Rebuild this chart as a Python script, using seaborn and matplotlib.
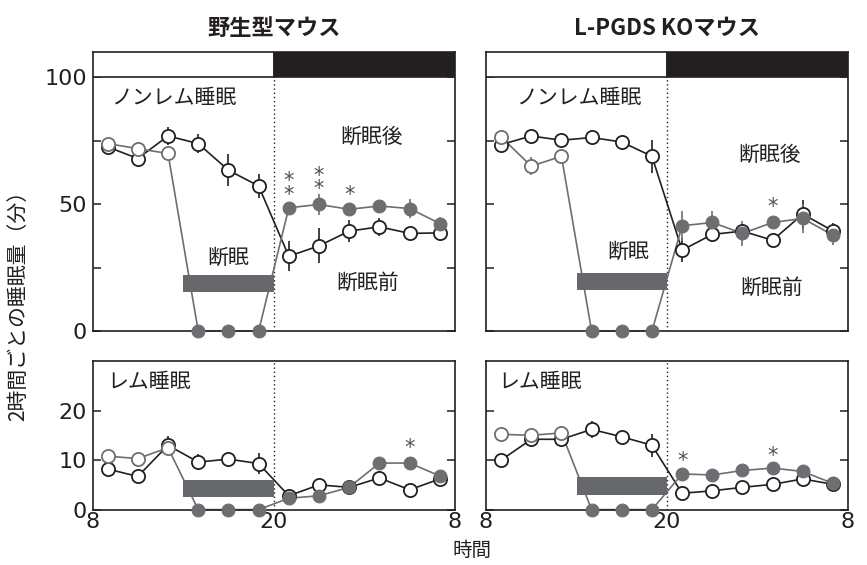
import numpy as np
import pandas as pd
import matplotlib.pyplot as plt
import seaborn as sns
from matplotlib.patches import Rectangle

# ========= Data =========
hours = [9, 11, 13, 15, 17, 19, 21, 23, 25, 27, 29, 31]

# NREM sleep, wild type
wt_nrem_base = [72.6, 68.0, 76.9, 73.9, 63.4, 57.2, 29.5, 33.6, 39.4, 41.1, 38.5, 38.7]
wt_nrem_base_err = [1.0, 1.0, 3.5, 3.7, 6.2, 4.6, 5.9, 6.9, 4.4, 3.6, 2.6, 3.3]
wt_nrem_sd = [73.9, 71.9, 70.0, 0, 0, 0, 48.6, 49.9, 48.0, 49.3, 48.3, 42.4]
wt_nrem_sd_err = [1.0, 1.0, 1.0, 0, 0, 0, 1.6, 4.1, 2.0, 2.3, 3.6, 2.6]

# NREM sleep, L-PGDS KO
ko_nrem_base = [73.5, 76.9, 75.2, 76.3, 74.5, 68.9, 31.9, 38.1, 39.4, 35.8, 46.1, 39.5]
ko_nrem_base_err = [1.5, 1.5, 2.0, 1.0, 2.0, 6.6, 4.6, 3.0, 2.5, 2.5, 5.7, 3.0]
ko_nrem_sd = [76.5, 65.0, 68.9, 0, 0, 0, 41.5, 42.8, 38.5, 42.8, 44.4, 37.8]
ko_nrem_sd_err = [1.0, 3.6, 1.5, 0, 0, 0, 5.9, 4.6, 4.9, 2.0, 5.6, 4.0]

# REM sleep, wild type
wt_rem_base = [8.2, 6.7, 13.0, 9.6, 10.2, 9.3, 2.8, 5.0, 4.5, 6.4, 4.0, 6.2]
wt_rem_base_err = [1.0, 0.8, 1.9, 1.7, 1.5, 2.2, 0.8, 0.8, 0.8, 1.0, 0.8, 1.2]
wt_rem_sd = [10.8, 10.3, 12.5, 0, 0, 0, 2.3, 2.8, 4.5, 9.4, 9.4, 6.8]
wt_rem_sd_err = [1.0, 0.8, 0.8, 0, 0, 0, 0.5, 0.8, 0.8, 1.0, 1.3, 1.0]

# REM sleep, L-PGDS KO
ko_rem_base = [10.0, 14.2, 14.2, 16.2, 14.7, 13.0, 3.3, 3.8, 4.5, 5.1, 6.2, 5.1]
ko_rem_base_err = [1.0, 1.5, 1.0, 1.7, 0.8, 2.3, 0.5, 0.5, 0.5, 0.5, 0.7, 0.5]
ko_rem_sd = [15.2, 15.0, 15.5, 0, 0, 0, 7.2, 7.0, 7.9, 8.4, 7.7, 5.3]
ko_rem_sd_err = [1.0, 1.0, 0.8, 0, 0, 0, 0.5, 1.2, 0.5, 1.0, 0.5, 0.5]

# significance marks: (hour, y, text)
wt_nrem_stars = [(21, 56.5, "*\n*"), (23, 58.6, "*\n*"), (25, 53.5, "*")]
ko_nrem_stars = [(27, 48.8, "*")]
wt_rem_stars = [(29, 12.5, "*")]
ko_rem_stars = [(21, 9.8, "*"), (27, 10.8, "*")]

titles = ["野生型マウス", "L-PGDS KOマウス"]
x_ticks = [8, 20, 32]
x_ticklabels = ["8", "20", "8"]

# ========= Style =========
sns.set_style("ticks")
plt.rcParams["font.family"] = ["Noto Sans CJK JP", "DejaVu Sans"]

BLACK = "#231f20"
GRAY = "#6d6e71"
BAR = "#67686b"
STAR = "#505052"

fig = plt.figure(figsize=(8.67, 5.65), dpi=100)
ax_tl = fig.add_axes([0.1067, 0.414, 0.418, 0.494])
ax_tr = fig.add_axes([0.5606, 0.414, 0.4175, 0.494])
ax_bl = fig.add_axes([0.1067, 0.098, 0.418, 0.263])
ax_br = fig.add_axes([0.5606, 0.098, 0.4175, 0.263])


def draw_series(ax, base, base_err, sd, sd_err):
    df = pd.DataFrame({"hour": hours, "base": base, "base_err": base_err,
                       "sd": sd, "sd_err": sd_err})
    # error bars
    ax.vlines(df["hour"], df["base"] - df["base_err"], df["base"] + df["base_err"],
              color=BLACK, lw=1.2, zorder=2)
    ax.vlines(df["hour"], df["sd"] - df["sd_err"], df["sd"] + df["sd_err"],
              color=GRAY, lw=1.2, zorder=2)
    # lines
    sns.lineplot(data=df, x="hour", y="base", ax=ax, color=BLACK, lw=1.2, zorder=2)
    sns.lineplot(data=df, x="hour", y="sd", ax=ax, color=GRAY, lw=1.2, zorder=2)
    # markers
    sns.scatterplot(data=df, x="hour", y="base", ax=ax, s=90, facecolor="white",
                    edgecolor=BLACK, linewidth=1.3, zorder=5)
    sns.scatterplot(data=df.iloc[:3], x="hour", y="sd", ax=ax, s=90, facecolor="white",
                    edgecolor=GRAY, linewidth=1.3, zorder=6)
    sns.scatterplot(data=df.iloc[3:], x="hour", y="sd", ax=ax, s=85, facecolor=GRAY,
                    edgecolor=GRAY, linewidth=0.8, zorder=6)
    for coll in ax.collections:
        coll.set_clip_on(False)
    for ln in ax.lines:
        ln.set_clip_on(False)


def add_stars(ax, stars):
    for x, y, s in stars:
        ax.text(x, y, s, ha="center", va="center", fontsize=15, color=STAR,
                family="DejaVu Sans", linespacing=0.6)


def style_axes(ax, ymax, yticks, ylabels, show_ylabels):
    ax.set_xlim(8, 32)
    ax.set_ylim(0, ymax)
    ax.set_yticks(yticks)
    ax.set_yticklabels(ylabels if show_ylabels else [""] * len(yticks),
                       family="DejaVu Sans")
    ax.tick_params(axis="y", direction="in", left=True, right=True, length=6,
                   width=1.1, color=BLACK, labelsize=16, pad=4, labelcolor=BLACK)
    ax.set_xlabel("")
    ax.set_ylabel("")
    for sp in ax.spines.values():
        sp.set_visible(True)
        sp.set_color(BLACK)
        sp.set_linewidth(1.2)


# ========= Top panels (NREM) =========
for ax, base, base_err, sd, sd_err, stars, txt in [
    (ax_tl, wt_nrem_base, wt_nrem_base_err, wt_nrem_sd, wt_nrem_sd_err, wt_nrem_stars,
     [(9.2, 92, "ノンレム睡眠", "left"), (26.5, 76.4, "断眠後", "center"),
      (17.0, 28.7, "断眠", "center"), (26.2, 18.9, "断眠前", "center")]),
    (ax_tr, ko_nrem_base, ko_nrem_base_err, ko_nrem_sd, ko_nrem_sd_err, ko_nrem_stars,
     [(10.0, 92, "ノンレム睡眠", "left"), (26.8, 69.3, "断眠後", "center"),
      (17.4, 31.1, "断眠", "center"), (26.9, 16.9, "断眠前", "center")]),
]:
    draw_series(ax, base, base_err, sd, sd_err)
    style_axes(ax, 110, [0, 25, 50, 75, 100], ["0", "", "50", "", "100"], ax is ax_tl)
    ax.set_xticks([])
    # light / dark bar
    ax.add_patch(Rectangle((8, 100), 12, 10, facecolor="white", edgecolor=BLACK,
                           lw=1.2, zorder=3))
    ax.add_patch(Rectangle((20, 100), 12, 10, facecolor=BLACK, edgecolor=BLACK,
                           lw=1.2, zorder=3))
    ax.plot([20, 20], [0, 100], ls=(0, (1, 2)), color=BLACK, lw=1.0, zorder=1)
    for x, y, s, ha in txt:
        ax.text(x, y, s, ha=ha, va="center", fontsize=15, color=BLACK)
    add_stars(ax, stars)

ax_tl.add_patch(Rectangle((14, 15.4), 6, 6.6, facecolor=BAR, edgecolor="none", zorder=4))
ax_tr.add_patch(Rectangle((14, 16.1), 6, 6.7, facecolor=BAR, edgecolor="none", zorder=4))

# ========= Bottom panels (REM) =========
for ax, base, base_err, sd, sd_err, stars, lx in [
    (ax_bl, wt_rem_base, wt_rem_base_err, wt_rem_sd, wt_rem_sd_err, wt_rem_stars, 9.0),
    (ax_br, ko_rem_base, ko_rem_base_err, ko_rem_sd, ko_rem_sd_err, ko_rem_stars, 8.8),
]:
    draw_series(ax, base, base_err, sd, sd_err)
    style_axes(ax, 30, [0, 10, 20], ["0", "10", "20"], ax is ax_bl)
    ax.set_xticks(x_ticks)
    ax.set_xticklabels(x_ticklabels, family="DejaVu Sans")
    ax.tick_params(axis="x", length=0, labelsize=16, pad=2, labelcolor=BLACK)
    ax.plot([20, 20], [0, 30], ls=(0, (1, 2)), color=BLACK, lw=1.0, zorder=1)
    ax.text(lx, 25.8, "レム睡眠", ha="left", va="center", fontsize=15, color=BLACK)
    add_stars(ax, stars)

ax_bl.add_patch(Rectangle((14, 2.5), 6, 3.4, facecolor=BAR, edgecolor="none", zorder=4))
ax_br.add_patch(Rectangle((14, 3.0), 6, 3.5, facecolor=BAR, edgecolor="none", zorder=4))

# ========= Labels =========
fig.text(0.3157, 0.950, titles[0], ha="center", va="center", fontsize=16,
         fontweight="bold", color=BLACK)
fig.text(0.7693, 0.950, titles[1], ha="center", va="center", fontsize=16,
         fontweight="bold", color=BLACK)
fig.text(0.021, 0.469, "2時間ごとの睡眠量（分）", rotation=90, ha="center",
         va="center", fontsize=15, color=BLACK)
fig.text(0.544, 0.025, "時間", ha="center", va="center", fontsize=14, color=BLACK)

plt.savefig("out.png", dpi=100)
